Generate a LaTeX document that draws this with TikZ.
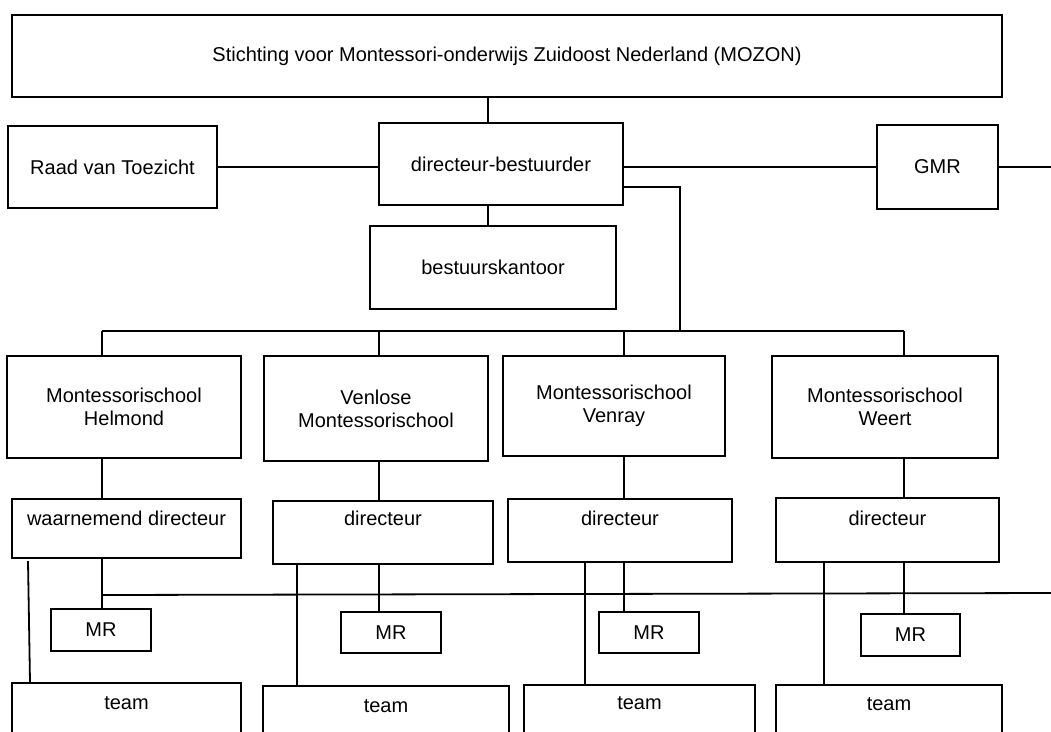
\documentclass[tikz,border=0pt]{standalone}
\usepackage{fontspec}
\setmainfont{Liberation Sans}

\begin{document}
\begin{tikzpicture}[x=1pt,y=-1pt,
  box/.style={draw,line width=1.8pt,inner sep=0pt,align=center,
    font=\fontsize{20}{23}\selectfont},
  topbox/.style n args={2}{box,anchor=north,text height=#1,text depth=#2},
  conn/.style={line width=1.8pt}]
  \clip (0,0) rectangle (1051,731);

  \node[box,minimum width=990pt,minimum height=82pt] (mozon) at (507,56)
    {Stichting voor Montessori-onderwijs Zuidoost Nederland (MOZON)};
  \node[box,minimum width=209pt,minimum height=82pt] (rvt) at (112.5,167) {Raad van Toezicht};
  \node[box,minimum width=244pt,minimum height=82pt] (db) at (501,164) {directeur-bestuurder};
  \node[box,minimum width=121pt,minimum height=84pt] (gmr) at (937.5,167) {GMR};
  \node[box,minimum width=246pt,minimum height=83pt] (bk) at (493,267.5) {bestuurskantoor};

  \node[box,minimum width=234pt,minimum height=102pt] (helm) at (124,407) {Montessorischool\\Helmond};
  \node[box,minimum width=224pt,minimum height=105pt] (venlo) at (376,408.5) {Venlose\\Montessorischool};
  \node[box,minimum width=222pt,minimum height=100pt] (venray) at (614,406) {Montessorischool\\Venray};
  \node[box,minimum width=226pt,minimum height=102pt] (weert) at (885,407) {Montessorischool\\Weert};

  \node[topbox={27pt}{32pt},minimum width=229pt] (wd) at (126.5,498) {waarnemend directeur};
  \node[topbox={25pt}{38pt},minimum width=220pt] (dvl) at (383,500) {directeur};
  \node[topbox={27pt}{36pt},minimum width=224pt] (dvr) at (620,498) {directeur};
  \node[topbox={28pt}{36pt},minimum width=223pt] (dwe) at (887.5,497) {directeur};

  \node[box,minimum width=100pt,minimum height=42pt] (mr1) at (101,630) {MR};
  \node[box,minimum width=100pt,minimum height=41pt] (mr2) at (391,632.5) {MR};
  \node[box,minimum width=100pt,minimum height=41pt] (mr3) at (649,632.5) {MR};
  \node[box,minimum width=99pt,minimum height=42pt] (mr4) at (910.5,635) {MR};

  \node[topbox={27pt}{80pt},minimum width=229pt] (t1) at (126.5,682) {team};
  \node[topbox={27pt}{80pt},minimum width=246pt] (t2) at (386,685) {team};
  \node[topbox={25pt}{80pt},minimum width=231pt] (t3) at (639.5,684) {team};
  \node[topbox={26pt}{80pt},minimum width=226pt] (t4) at (889,684) {team};

  \path (488,0) coordinate (spine);
  \draw[conn] (mozon.south -| spine) -- (db.north -| spine);
  \draw[conn] (db.south -| spine) -- (bk.north -| spine);
  \draw[conn] (rvt.east) -- (rvt.east -| db.west);
  \draw[conn] (gmr.west -| db.east) -- (gmr.west);
  \path (1051,167) coordinate (gmrend);
  \draw[conn] (gmr.east) -- (gmrend);
  \path (680,331) coordinate (busr);
  \draw[conn] ([yshift=-23pt]db.east) -| (busr);

  \path (102,331) coordinate (c1) (379,331) coordinate (c2)
    (624,331) coordinate (c3) (904,331) coordinate (c4);
  \draw[conn] (c1) -- (c4);
  \foreach \s/\d/\m/\c in {helm/wd/mr1/c1,venlo/dvl/mr2/c2,venray/dvr/mr3/c3,weert/dwe/mr4/c4} {
    \draw[conn] (\c) -- (\c |- \s.north);
    \draw[conn] (\c |- \s.south) -- (\c |- \d.north);
    \draw[conn] (\c |- \d.south) -- (\c |- \m.north);
  }

  \path (102,595) coordinate (mrl) (1051,593) coordinate (mrr);
  \draw[conn] (mrl) -- (mrr);

  \path (28,561) coordinate (wdtap) (30,0) coordinate (tc1)
    (297,0) coordinate (tc2) (585,0) coordinate (tc3) (824,0) coordinate (tc4);
  \draw[conn] (wdtap) -- (tc1 |- t1.north);
  \draw[conn] (tc2 |- dvl.south) -- (tc2 |- t2.north);
  \draw[conn] (tc3 |- dvr.south) -- (tc3 |- t3.north);
  \draw[conn] (tc4 |- dwe.south) -- (tc4 |- t4.north);
\end{tikzpicture}
\end{document}
